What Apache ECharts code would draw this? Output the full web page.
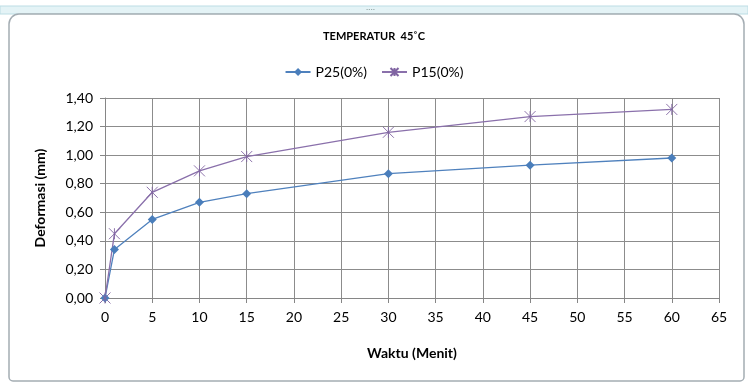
<!DOCTYPE html>
<html><head><meta charset="utf-8">
<script src="https://cdn.jsdelivr.net/npm/echarts@6/dist/echarts.min.js"></script>
<style>html,body{margin:0;padding:0;background:#fff}#c{width:748px;height:385px}</style>
</head><body><div id="c"></div>
<script>
var times = [0, 1, 5, 10, 15, 30, 45, 60];
var p25 = [0.00, 0.34, 0.55, 0.67, 0.73, 0.87, 0.93, 0.98];
var p15 = [0.00, 0.45, 0.74, 0.89, 0.99, 1.16, 1.27, 1.32];
var seriesNames = ['P25(0%)', 'P15(0%)'];
var titleText = 'TEMPERATUR  45\u02DAC';
var xName = 'Waktu (Menit)';
var yName = 'Deformasi (mm)';

var FONT = 'Lato';
var crossPath = 'path://M0,0L10,10M10,0L0,10M5,0L5,10';
function pairs(xs, ys){ return xs.map(function(x,i){ return [x, ys[i]]; }); }

var chart = echarts.init(document.getElementById('c'), null, {renderer:'canvas'});
chart.setOption({
  animation:false,
  backgroundColor:'#fff',
  graphic:[
    {type:'rect', shape:{x:0,y:6,width:748,height:8}, style:{fill:'#e4f3f6', stroke:'#bcdde4', lineWidth:1}, z:-10},
    {type:'text', left:366, top:4, style:{text:'....', fill:'#9aa', font:'bold 8px sans-serif'}},
    {type:'rect', shape:{x:9,y:14,width:735,height:367,r:[10,10,4,4]}, style:{fill:'#fff', stroke:'#a4adb3', lineWidth:1.5}, z:-9}
  ],
  title:{
    text:titleText, left:'center', top:26,
    textStyle:{fontFamily:FONT, fontSize:11, fontWeight:'bold', color:'#000'}
  },
  legend:{
    top:60, left:'center', itemWidth:25, itemHeight:10, itemGap:14,
    textStyle:{fontFamily:FONT, fontSize:14, color:'#000'},
    data:seriesNames
  },
  grid:{left:105, right:29, top:98, bottom:87, containLabel:false},
  xAxis:{
    type:'value', min:0, max:65, interval:5,
    name:xName, nameLocation:'middle', nameGap:48,
    nameTextStyle:{fontFamily:FONT, fontSize:14, fontWeight:'bold', color:'#000'},
    axisLine:{lineStyle:{color:'#868686', width:1}},
    axisTick:{show:true, length:5, lineStyle:{color:'#868686'}},
    axisLabel:{fontFamily:FONT, fontSize:14, color:'#000', margin:12},
    splitLine:{show:true, lineStyle:{color:'#8c8c8c', width:1}}
  },
  yAxis:{
    type:'value', min:0, max:1.4, interval:0.2,
    name:yName, nameLocation:'middle', nameGap:58, nameRotate:90,
    nameTextStyle:{fontFamily:FONT, fontSize:14, fontWeight:'bold', color:'#000'},
    axisLine:{show:true, lineStyle:{color:'#868686', width:1}},
    axisTick:{show:true, length:5, lineStyle:{color:'#868686'}},
    axisLabel:{fontFamily:FONT, fontSize:14, color:'#000', margin:12,
      formatter:function(v){ return v.toFixed(2).replace('.', ','); }},
    splitLine:{show:true, lineStyle:{color:'#8c8c8c', width:1}}
  },
  series:[
    {name:seriesNames[0], type:'line', data:pairs(times,p25),
     symbol:'diamond', symbolSize:9,
     lineStyle:{color:'#4f81bd', width:1.3},
     itemStyle:{color:'#4a7ebb'}},
    {name:seriesNames[1], type:'line', data:pairs(times,p15),
     symbol:crossPath, symbolSize:11,
     lineStyle:{color:'#8a70ab', width:1.3},
     itemStyle:{color:'none', borderColor:'#8064a2', borderWidth:0.9}}
  ]
});
</script></body></html>
